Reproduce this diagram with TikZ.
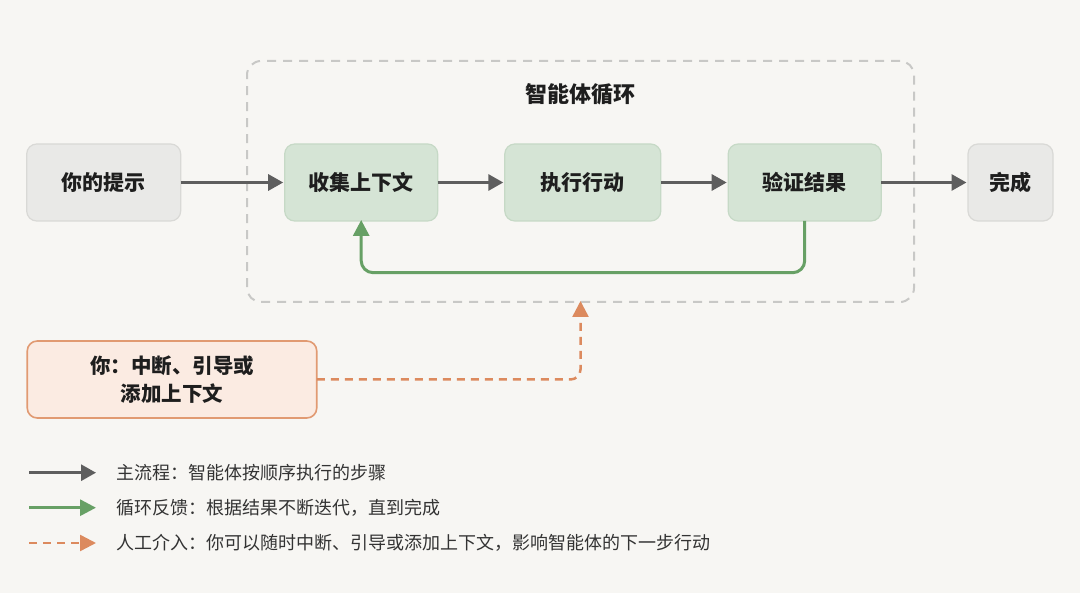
\documentclass[tikz,border=0pt]{standalone}
\usepackage{fontspec}
\setmainfont{Noto Sans CJK SC}
\usetikzlibrary{arrows.meta}
\definecolor{bg}{HTML}{F7F6F3}
\definecolor{grayfill}{HTML}{E9E9E7}
\definecolor{grayedge}{HTML}{D9D9D6}
\definecolor{greenfill}{HTML}{D5E4D5}
\definecolor{greenedge}{HTML}{C6D9C6}
\definecolor{flowgray}{HTML}{5E5E5E}
\definecolor{loopgreen}{HTML}{67A065}
\definecolor{humanor}{HTML}{DC8A5E}
\definecolor{orfill}{HTML}{FBEBE2}
\definecolor{oredge}{HTML}{E19A72}
\definecolor{frame}{HTML}{C8C8C6}
\definecolor{ink}{HTML}{1E1E1E}
\definecolor{legendink}{HTML}{333333}
\tikzset{
  box/.style={rectangle, rounded corners=10pt, line width=1.2pt, minimum height=77pt,
    inner sep=0pt, outer sep=0pt, text=ink, font=\fontsize{21}{25}\selectfont\bfseries},
  graybox/.style={box, fill=grayfill, draw=grayedge},
  greenbox/.style={box, fill=greenfill, draw=greenedge},
  humanbox/.style={box, fill=orfill, draw=oredge, line width=1.6pt, align=center,
    font=\fontsize{20.5}{28}\selectfont\bfseries},
  container/.style={rectangle, rounded corners=14pt, draw=frame, line width=2pt,
    dash pattern=on 9pt off 7pt, inner sep=0pt, outer sep=0pt},
  flow/.style={draw=flowgray, line width=3pt, -{Triangle[length=15pt,width=16pt]}, color=flowgray},
  loopflow/.style={draw=loopgreen, line width=3pt, rounded corners=12pt,
    -{Triangle[length=16pt,width=16pt]}, color=loopgreen},
  humanflow/.style={draw=humanor, line width=2.5pt, rounded corners=10pt,
    dash pattern=on 8pt off 6pt, -{Triangle[length=16pt,width=16pt]}, color=humanor},
  legendtext/.style={anchor=west, inner sep=0pt, text=legendink, font=\fontsize{18}{21}\selectfont},
}
\begin{document}
\begin{tikzpicture}[x=1pt, y=-1pt]
\fill[bg] (0,0) rectangle (1080,593);
\useasboundingbox (0,0) rectangle (1080,593);

% container
\node[container, minimum width=667pt, minimum height=241pt] (loop) at (580.5,181.5) {};
\node[text=ink, font=\fontsize{22}{26}\selectfont\bfseries, inner sep=0pt] (title) at (580,94) {智能体循环};

% main boxes
\node[graybox, minimum width=154pt] (prompt) at (103.7,182.5) {你的提示};
\node[greenbox, minimum width=153pt] (gather) at (361.2,182.5) {收集上下文};
\node[greenbox, minimum width=156pt] (act) at (582.8,182.5) {执行行动};
\node[greenbox, minimum width=153pt] (verify) at (804.7,182.5) {验证结果};
\node[graybox, minimum width=85pt] (done) at (1010.5,182.5) {完成};

\draw[flow] (prompt.east) -- ([xshift=-1.5pt]gather.west);
\draw[flow] (gather.east) -- ([xshift=-1.5pt]act.west);
\draw[flow] (act.east) -- ([xshift=-1.5pt]verify.west);
\draw[flow] (verify.east) -- ([xshift=-1.5pt]done.west);

% loop feedback
\draw[loopflow] (verify.south) -- (verify.south |- 0,272.7) -| ([yshift=1pt]gather.south);

% human box
\node[humanbox, minimum width=289.5pt] (human) at (172,379.5) {你：中断、引导或\\添加上下文};
\draw[humanflow] (human.east) -| ([yshift=1pt]loop.south);

% legend
\coordinate (l1a) at (29,472.7); \coordinate (l1b) at (96,472.7);
\coordinate (l2a) at (29,507.7); \coordinate (l2b) at (96,507.7);
\coordinate (l3a) at (29,543);   \coordinate (l3b) at (96,543);
\draw[flow] (l1a) -- (l1b);
\draw[loopflow] (l2a) -- (l2b);
\draw[humanflow] (l3a) -- (l3b);
\node[legendtext] (t1) at (116.5,472.7) {主流程：智能体按顺序执行的步骤};
\node[legendtext] (t2) at (116.5,507.7) {循环反馈：根据结果不断迭代，直到完成};
\node[legendtext] (t3) at (116.5,543) {人工介入：你可以随时中断、引导或添加上下文，影响智能体的下一步行动};
\end{tikzpicture}
\end{document}
